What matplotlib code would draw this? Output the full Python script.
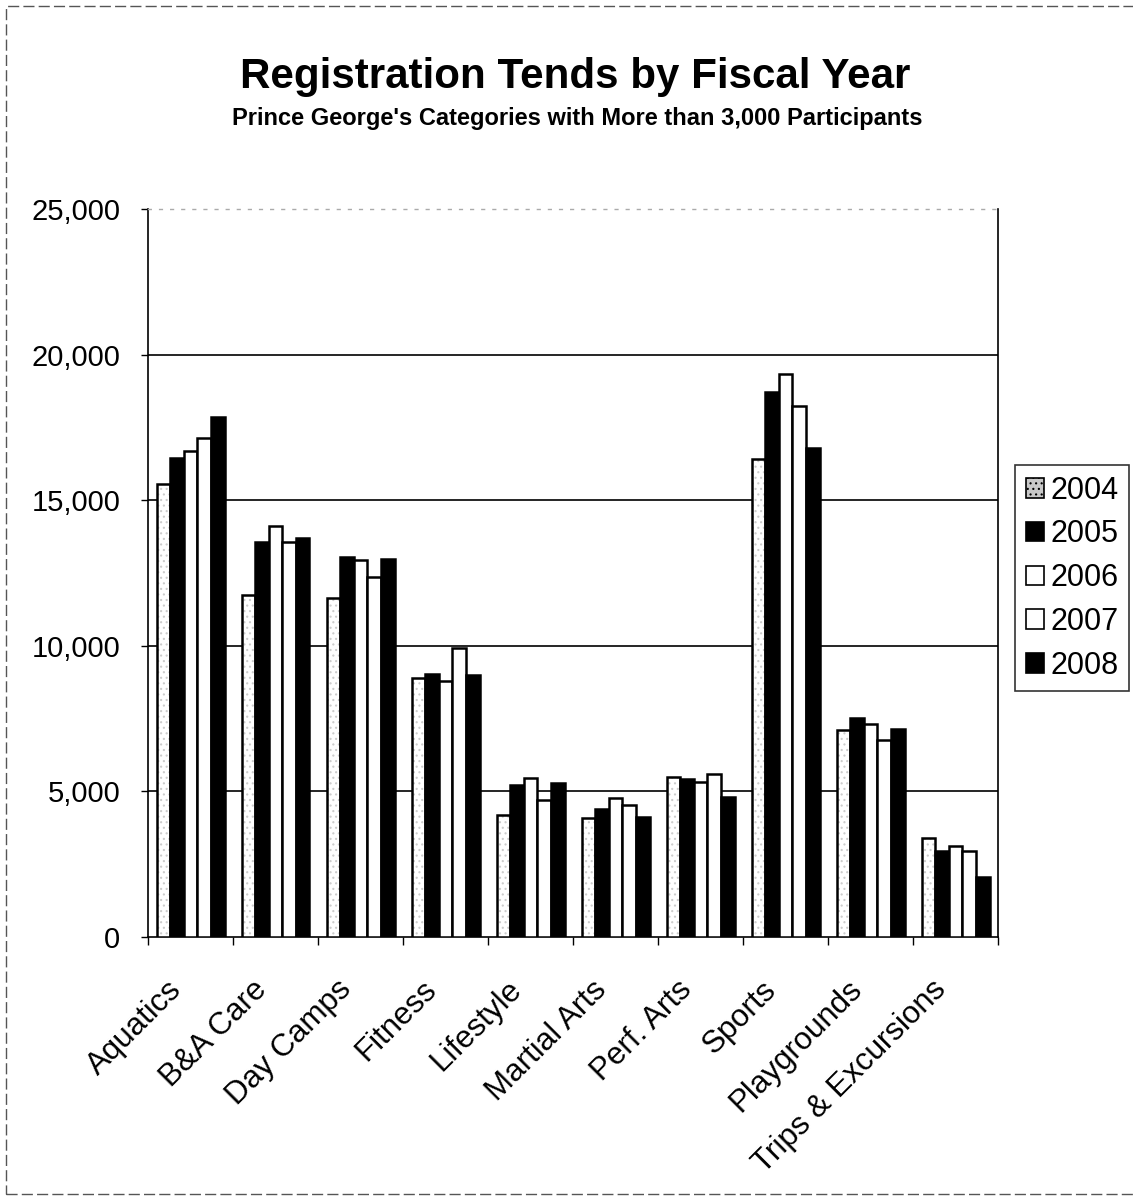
import matplotlib.pyplot as plt
import numpy as np
from matplotlib.patches import Patch, Rectangle
from matplotlib.ticker import FuncFormatter
from matplotlib.transforms import ScaledTranslation

plt.rcParams['font.family'] = ['Liberation Sans', 'DejaVu Sans']
plt.rcParams['hatch.linewidth'] = 0.8

# categories and registrations per fiscal year
categories = ["Aquatics", "B&A Care", "Day Camps", "Fitness", "Lifestyle",
              "Martial Arts", "Perf. Arts", "Sports", "Playgrounds",
              "Trips & Excursions"]
years = ["2004", "2005", "2006", "2007", "2008"]
fy2004 = [15550, 11740, 11640, 8910, 4180, 4090, 5500, 16400, 7100, 3390]
fy2005 = [16450, 13580, 13040, 9040, 5220, 4400, 5410, 18700, 7520, 2960]
fy2006 = [16690, 14100, 12960, 8780, 5470, 4780, 5330, 19350, 7310, 3130]
fy2007 = [17120, 13560, 12350, 9910, 4720, 4530, 5590, 18220, 6760, 2940]
fy2008 = [17850, 13700, 12980, 9010, 5300, 4120, 4800, 16800, 7140, 2060]
series = [fy2004, fy2005, fy2006, fy2007, fy2008]

fig = plt.figure(figsize=(11.33, 12), dpi=100)
ax = fig.add_axes([148/1133, 263/1200, 850/1133, 728/1200])

x = np.arange(len(categories))
w = 0.16
offsets = (np.arange(5) - 2) * w

for k, vals in enumerate(series):
    xs = x + offsets[k]
    if k == 0:
        # light speckled fill for 2004
        ax.bar(xs, vals, w, color="white", edgecolor="#cccccc", hatch="...",
               linewidth=0, zorder=3)
        ax.bar(xs, vals, w, fill=False, edgecolor="black", linewidth=1.8, zorder=4)
    elif k in (1, 4):
        ax.bar(xs, vals, w, color="black", edgecolor="black", linewidth=1.8, zorder=3)
    else:
        ax.bar(xs, vals, w, color="white", edgecolor="black", linewidth=1.8, zorder=3)

ax.set_xlim(-0.5, len(categories) - 0.5)
ax.set_ylim(0, 25000)
ax.set_yticks(range(0, 25001, 5000))
ax.yaxis.set_major_formatter(FuncFormatter(lambda v, p: f"{int(v):,}"))
ax.tick_params(axis="y", labelsize=21, length=5, width=1, direction="out", pad=15)

ax.set_xticks(x)
ax.set_xticklabels(categories, rotation=45, ha="right", rotation_mode="anchor",
                   fontsize=22.5)
ax.set_xticks(np.arange(-0.5, len(categories) - 0.4, 1), minor=True)
ax.tick_params(axis="x", which="major", length=0, pad=27)
ax.tick_params(axis="x", which="minor", length=6, width=1, direction="out")
shift = ScaledTranslation(-24/100, 0, fig.dpi_scale_trans)
for lab in ax.get_xticklabels():
    lab.set_transform(lab.get_transform() + shift)

# horizontal gridlines
for g in range(5000, 25000, 5000):
    ax.axhline(g, color="black", linewidth=1.2, zorder=1)

ax.spines["left"].set_linewidth(1.2)
ax.spines["bottom"].set_linewidth(1.2)
ax.spines["right"].set_linewidth(1.2)
ax.spines["top"].set_color("#aaaaaa")
ax.spines["top"].set_linestyle((0, (2, 6)))
ax.spines["top"].set_linewidth(1)

# titles
fig.text(575/1133, 1 - 88/1200, "Registration Tends by Fiscal Year",
         ha="center", va="baseline", fontsize=30.3, fontweight="bold")
fig.text(577/1133, 1 - 125/1200,
         "Prince George's Categories with More than 3,000 Participants",
         ha="center", va="baseline", fontsize=17, fontweight="bold")

# legend
handles = [Patch(facecolor="#c8c8c8", edgecolor="black", hatch="...", linewidth=1.2),
           Patch(facecolor="black", edgecolor="black", linewidth=1.2),
           Patch(facecolor="white", edgecolor="black", linewidth=1.2),
           Patch(facecolor="white", edgecolor="black", linewidth=1.2),
           Patch(facecolor="black", edgecolor="black", linewidth=1.2)]
leg = fig.legend(handles, years, loc="upper left",
                 bbox_to_anchor=(1015/1133, 1 - 465/1200),
                 fontsize=22, frameon=True, fancybox=False,
                 handlelength=0.6, handleheight=0.6, handletextpad=0.2,
                 labelspacing=0.45, borderpad=0.35, borderaxespad=0)
leg.get_frame().set_edgecolor("black")
leg.get_frame().set_linewidth(1.2)

# dashed page border
fig.patches.append(Rectangle((6/1133, 6/1200), 1.2, 1 - 12/1200,
                             transform=fig.transFigure, fill=False,
                             edgecolor="#555555", linewidth=1,
                             linestyle=(0, (8, 3))))

fig.savefig("out.png", dpi=100)
